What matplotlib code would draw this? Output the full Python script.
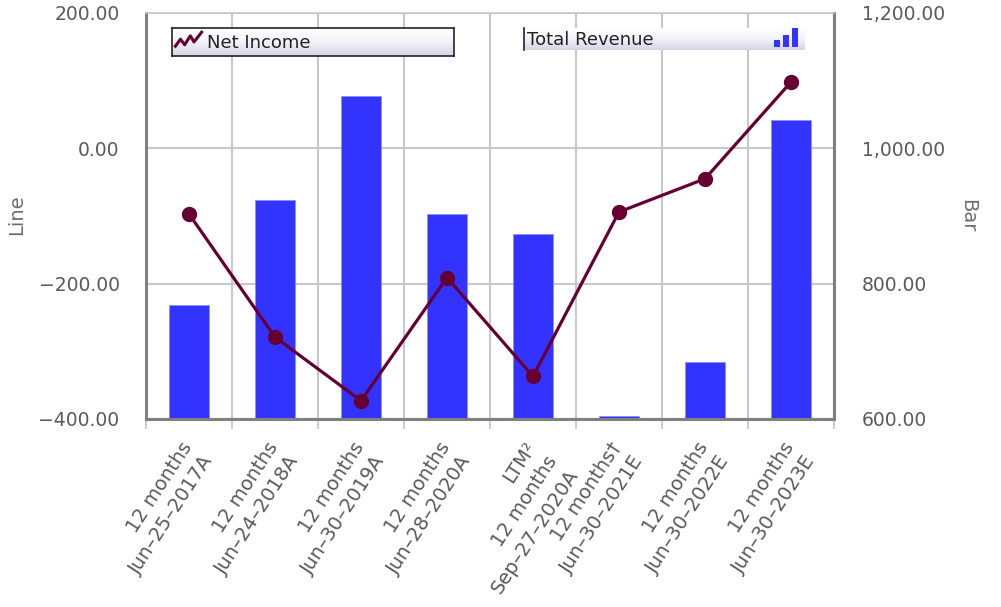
import numpy as np
import matplotlib
matplotlib.use("Agg")
import matplotlib.pyplot as plt
import matplotlib.transforms as mtransforms
from matplotlib.ticker import FuncFormatter, NullFormatter

# data
periods = [
    "12 months\nJun\u201325\u20132017A",
    "12 months\nJun\u201324\u20132018A",
    "12 months\nJun\u201330\u20132019A",
    "12 months\nJun\u201328\u20132020A",
    "LTM\u00b2\n12 months\nSep\u201327\u20132020A",
    "12 months\u2020\nJun\u201330\u20132021E",
    "12 months\nJun\u201330\u20132022E",
    "12 months\nJun\u201330\u20132023E",
]
total_revenue = [769, 923, 1078, 903, 874, 605, 684, 1042]
net_income = [-97, -279, -373, -191, -337, -94, -45, 98]

line_ticks = [-400, -200, 0, 200]
bar_ticks = [600, 800, 1000, 1200]

BAR_COLOR = "#3333ff"
LINE_COLOR = "#660033"
TEXT_COLOR = "#5a5a5a"
GRID_COLOR = "#c8c8c8"
SPINE_COLOR = "#808080"

plt.rcParams["font.family"] = ["DejaVu Sans"]

fig = plt.figure(figsize=(10.01, 6.07), dpi=100)
ax_bar = fig.add_axes([146 / 1001, 1 - 419 / 607, 688 / 1001, 406 / 607])
ax_line = ax_bar.twinx()

x = np.arange(len(periods))

# bars on the (lower) right-scale axes
ax_bar.bar(x, total_revenue, width=0.47, color=BAR_COLOR,
           edgecolor="#8c8cff", linewidth=0.5, zorder=2)
ax_bar.set_ylim(bar_ticks[0], bar_ticks[-1])
ax_bar.set_xlim(-0.5, len(periods) - 0.5)
ax_bar.yaxis.tick_right()
ax_bar.yaxis.set_label_position("right")
ax_bar.set_yticks(bar_ticks)
ax_bar.yaxis.set_major_formatter(FuncFormatter(lambda v, p: f"{v:,.2f}"))
ax_bar.tick_params(axis="y", length=0, pad=20, labelsize=13.5,
                   labelcolor=TEXT_COLOR)
ax_bar.set_axisbelow(True)
ax_bar.grid(axis="y", color=GRID_COLOR, linewidth=1.5)

# category boundaries carry the tick marks and vertical grid
ax_bar.set_xticks(np.arange(len(periods) + 1) - 0.5)
ax_bar.xaxis.set_major_formatter(NullFormatter())
ax_bar.tick_params(axis="x", length=7, width=1.5, color="#c5cde0")
ax_bar.grid(axis="x", color=GRID_COLOR, linewidth=1.5)
for s in ax_bar.spines.values():
    s.set_visible(False)

# rotated category labels, anchored at their top-right end
lab_trans = (mtransforms.blended_transform_factory(ax_bar.transData,
                                                   ax_bar.transAxes)
             + mtransforms.ScaledTranslation(-9 / 100, -14 / 72,
                                             fig.dpi_scale_trans))
for xi, lab in zip(x, periods):
    ax_bar.text(xi, 0, lab, transform=lab_trans, rotation=57,
                rotation_mode="anchor", ha="right", va="top",
                linespacing=1.4, fontsize=14, color=TEXT_COLOR)

# line on the left-scale axes, drawn above the bars
ax_line.plot(x, net_income, color=LINE_COLOR, linewidth=2.3,
             marker="o", markersize=10, zorder=3)
ax_line.set_ylim(line_ticks[0], line_ticks[-1])
ax_line.yaxis.tick_left()
ax_line.set_yticks(line_ticks)
ax_line.yaxis.set_major_formatter(
    FuncFormatter(lambda v, p: f"{v:,.2f}".replace("-", "\u2212")))
ax_line.tick_params(axis="y", length=0, pad=19, labelsize=13.5,
                    labelcolor=TEXT_COLOR)
for side in ["left", "right", "bottom"]:
    ax_line.spines[side].set_color(SPINE_COLOR)
    ax_line.spines[side].set_linewidth(2.2)
ax_line.spines["top"].set_color(GRID_COLOR)
ax_line.spines["top"].set_linewidth(1.2)

fig.text(17 / 1001, 1 - 215 / 607, "Line", rotation=90, ha="center",
         va="center", fontsize=14, color="#6e6e6e")
fig.text(968 / 1001, 1 - 216 / 607, "Bar", rotation=270, ha="center",
         va="center", fontsize=14, color="#6e6e6e")

# legend boxes (gradient strips)
grad = np.linspace(0, 1, 64).reshape(-1, 1)
grad_cmap = matplotlib.colors.LinearSegmentedColormap.from_list(
    "lg", ["#ffffff", "#f2f2f8", "#d4d4e6"])

lg1 = fig.add_axes([172 / 1001, 1 - 56 / 607, 282 / 1001, 28 / 607])
lg1.imshow(grad, cmap=grad_cmap, aspect="auto", extent=[0, 1, 0, 1])
lg1.set_xlim(0, 1)
lg1.set_ylim(0, 1)
lg1.set_xticks([])
lg1.set_yticks([])
for s in lg1.spines.values():
    s.set_color("#222222")
    s.set_linewidth(1.2)
lg1.plot([0.012, 0.03, 0.045, 0.065, 0.078, 0.105],
         [0.35, 0.6, 0.4, 0.72, 0.5, 0.85], color=LINE_COLOR, linewidth=2.2)
lg1.text(0.125, 0.45, "Net Income", ha="left", va="center", fontsize=13,
         color="#222222")

lg2 = fig.add_axes([524 / 1001, 1 - 50 / 607, 281 / 1001, 22 / 607])
lg2.imshow(grad, cmap=grad_cmap, aspect="auto", extent=[0, 1, 0, 1])
lg2.set_xlim(0, 1)
lg2.set_ylim(0, 1)
lg2.set_xticks([])
lg2.set_yticks([])
for side, s in lg2.spines.items():
    s.set_visible(side == "left")
lg2.spines["left"].set_color("#222222")
lg2.spines["left"].set_linewidth(1.2)
lg2.bar([0.9, 0.932, 0.964], [0.3, 0.55, 0.85], width=0.022,
        bottom=0.15, color=BAR_COLOR)
lg2.text(0.012, 0.45, "Total Revenue", ha="left", va="center", fontsize=13,
         color="#222222")

fig.savefig("out.png", dpi=100)
